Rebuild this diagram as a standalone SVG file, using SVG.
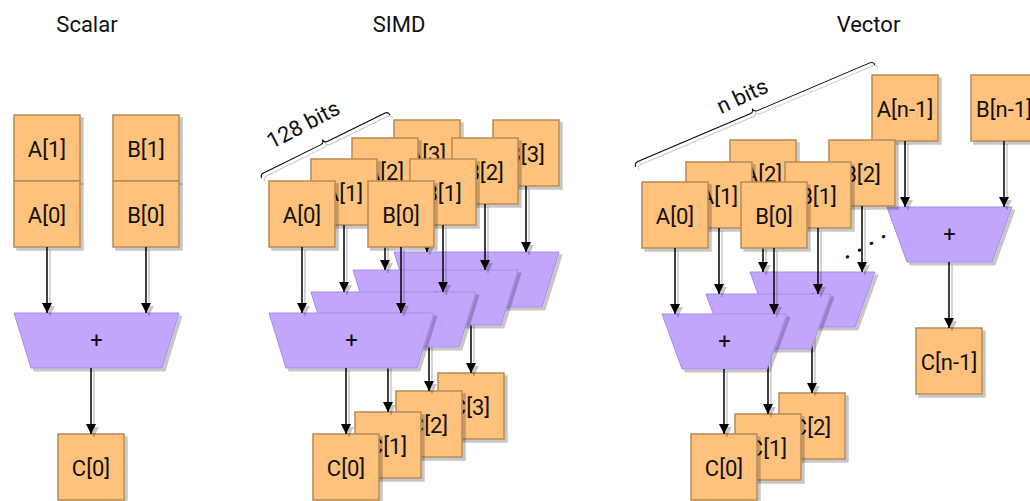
<svg xmlns="http://www.w3.org/2000/svg" width="1030" height="501" viewBox="0 0 1030 501">
<defs>
<filter id="sh" filterUnits="userSpaceOnUse" x="0" y="0" width="1030" height="501">
<feGaussianBlur in="SourceAlpha" stdDeviation="0.7"/>
<feOffset dx="3" dy="3"/>
<feComponentTransfer><feFuncA type="linear" slope="0.22"/></feComponentTransfer>
<feMerge><feMergeNode/><feMergeNode in="SourceGraphic"/></feMerge>
</filter>
<marker id="arr" viewBox="0 0 10 10" refX="10" refY="5" markerWidth="10" markerHeight="10" markerUnits="userSpaceOnUse" orient="auto">
<path d="M0,0 L10,5 L0,10 z" fill="#000"/>
</marker>
</defs>
<style>
text{font-family:Roboto,"Liberation Sans",sans-serif;font-size:22px;fill:#111;text-anchor:middle}
.box rect{fill:#FEC27D;stroke:#B78A55;stroke-width:1.5;filter:url(#sh)}
.alu polygon{fill:#C2A6FE;stroke:#A68CE2;stroke-width:1;filter:url(#sh)}
.conn{filter:url(#sh)}
.conn line{stroke:#000;stroke-width:1.5;marker-end:url(#arr)}
.brace-line{filter:url(#sh)}
.brace-line path{fill:none;stroke:#000;stroke-width:1}
</style>
<rect width="1030" height="501" fill="#fff"/>

<g id="titles">
<text x="87" y="32">Scalar</text>
<text x="399" y="32">SIMD</text>
<text x="868.5" y="32">Vector</text>
</g>

<!-- Scalar -->
<g id="sc-a1" class="box"><rect x="14" y="115" width="66" height="66"/><text x="47" y="156.5">A[1]</text></g>
<g id="sc-a0" class="box"><rect x="14" y="181" width="66" height="66"/><text x="47" y="222.5">A[0]</text></g>
<g id="sc-b1" class="box"><rect x="113" y="115" width="66" height="66"/><text x="146" y="156.5">B[1]</text></g>
<g id="sc-b0" class="box"><rect x="113" y="181" width="66" height="66"/><text x="146" y="222.5">B[0]</text></g>
<g id="sc-alu" class="alu"><polygon points="14,313 179,313 162,368 31,368"/><text x="96.5" y="347.5">+</text></g>
<g id="sc-c0" class="box"><rect x="58" y="434" width="66" height="66"/><text x="91" y="475.5">C[0]</text></g>
<g id="sc-connectors" class="conn">
<line x1="47" y1="247" x2="47" y2="313"/>
<line x1="146" y1="247" x2="146" y2="313"/>
<line x1="91" y1="368" x2="91" y2="434"/>
</g>

<!-- SIMD slice 3 -->
<g id="simd-a3" class="box"><rect x="394" y="120" width="66" height="66"/><text x="427" y="161.5">A[3]</text></g>
<g id="simd-b3" class="box"><rect x="493" y="120" width="66" height="66"/><text x="526" y="161.5">B[3]</text></g>
<g id="simd-alu3" class="alu"><polygon points="394,252 559,252 542,307 411,307"/><text x="476.5" y="286.5">+</text></g>
<g id="simd-c3" class="box"><rect x="438" y="373" width="66" height="66"/><text x="471" y="414.5">C[3]</text></g>
<g id="simd-connectors-3" class="conn">
<line x1="427" y1="186" x2="427" y2="252"/>
<line x1="526" y1="186" x2="526" y2="252"/>
<line x1="471" y1="307" x2="471" y2="373"/>
</g>
<!-- SIMD slice 2 -->
<g id="simd-a2" class="box"><rect x="352" y="138" width="66" height="66"/><text x="385" y="179.5">A[2]</text></g>
<g id="simd-b2" class="box"><rect x="452" y="138" width="66" height="66"/><text x="485" y="179.5">B[2]</text></g>
<g id="simd-alu2" class="alu"><polygon points="353,270 518,270 501,325 370,325"/><text x="435.5" y="304.5">+</text></g>
<g id="simd-c2" class="box"><rect x="396" y="391" width="66" height="66"/><text x="429" y="432.5">C[2]</text></g>
<g id="simd-connectors-2" class="conn">
<line x1="385" y1="204" x2="385" y2="270"/>
<line x1="485" y1="204" x2="485" y2="270"/>
<line x1="429" y1="325" x2="429" y2="391"/>
</g>
<!-- SIMD slice 1 -->
<g id="simd-a1" class="box"><rect x="311" y="159" width="66" height="66"/><text x="344" y="200.5">A[1]</text></g>
<g id="simd-b1" class="box"><rect x="410" y="159" width="66" height="66"/><text x="443" y="200.5">B[1]</text></g>
<g id="simd-alu1" class="alu"><polygon points="311,292 476,292 459,347 328,347"/><text x="393.5" y="326.5">+</text></g>
<g id="simd-c1" class="box"><rect x="355" y="412" width="66" height="66"/><text x="388" y="453.5">C[1]</text></g>
<g id="simd-connectors-1" class="conn">
<line x1="344" y1="225" x2="344" y2="292"/>
<line x1="443" y1="225" x2="443" y2="292"/>
<line x1="388" y1="347" x2="388" y2="412"/>
</g>
<!-- SIMD slice 0 -->
<g id="simd-a0" class="box"><rect x="269" y="181" width="66" height="66"/><text x="302" y="222.5">A[0]</text></g>
<g id="simd-b0" class="box"><rect x="368" y="181" width="66" height="66"/><text x="401" y="222.5">B[0]</text></g>
<g id="simd-alu0" class="alu"><polygon points="269,313 434,313 417,368 286,368"/><text x="351.5" y="347.5">+</text></g>
<g id="simd-c0" class="box"><rect x="313" y="434" width="66" height="66"/><text x="346" y="475.5">C[0]</text></g>
<g id="simd-connectors-0" class="conn">
<line x1="302" y1="247" x2="302" y2="313"/>
<line x1="401" y1="247" x2="401" y2="313"/>
<line x1="346" y1="368" x2="346" y2="434"/>
</g>
<g id="simd-brace">
<g class="brace-line"><path transform="translate(325.85,146.65) rotate(-26.26)" d="M-71.5,0 Q-71.5,-4 -67.5,-4 L-4,-4 Q0,-4 0,-8 Q0,-4 4,-4 L67.5,-4 Q71.5,-4 71.5,0"/></g>
<text transform="translate(304,126) rotate(-27.5)" y="5.8">128 bits</text>
</g>

<!-- Vector slice n-1 -->
<g id="vec-an" class="box"><rect x="872" y="75" width="66" height="66"/><text x="905" y="116.5">A[n-1]</text></g>
<g id="vec-bn" class="box"><rect x="971" y="75" width="66" height="66"/><text x="1004" y="116.5">B[n-1]</text></g>
<g id="vec-alun" class="alu"><polygon points="887,207 1012,207 992,262 907,262"/><text x="949.5" y="241.5">+</text></g>
<g id="vec-cn" class="box"><rect x="916" y="328" width="66" height="66"/><text x="949" y="369.5">C[n-1]</text></g>
<g id="vec-connectors-n" class="conn">
<line x1="905" y1="141" x2="905" y2="207"/>
<line x1="1004" y1="141" x2="1004" y2="207"/>
<line x1="949" y1="262" x2="949" y2="328"/>
</g>
<g id="vec-dots"><text transform="translate(847.3,257.3) rotate(-29.5)" x="-2.9" y="1.3" style="text-anchor:start;letter-spacing:7.4px;font-weight:bold">....</text></g>
<!-- Vector slice 2 -->
<g id="vec-a2" class="box"><rect x="730" y="140" width="66" height="66"/><text x="763" y="181.5">A[2]</text></g>
<g id="vec-b2" class="box"><rect x="829" y="140" width="66" height="66"/><text x="862" y="181.5">B[2]</text></g>
<g id="vec-alu2" class="alu"><polygon points="750,272 875,272 855,327 770,327"/><text x="812.5" y="306.5">+</text></g>
<g id="vec-c2" class="box"><rect x="779" y="393" width="66" height="66"/><text x="812" y="434.5">C[2]</text></g>
<g id="vec-connectors-2" class="conn">
<line x1="763" y1="206" x2="763" y2="272"/>
<line x1="862" y1="206" x2="862" y2="272"/>
<line x1="812" y1="327" x2="812" y2="393"/>
</g>
<!-- Vector slice 1 -->
<g id="vec-a1" class="box"><rect x="686" y="162" width="66" height="66"/><text x="719" y="203.5">A[1]</text></g>
<g id="vec-b1" class="box"><rect x="785" y="162" width="66" height="66"/><text x="818" y="203.5">B[1]</text></g>
<g id="vec-alu1" class="alu"><polygon points="706,294 831,294 811,349 726,349"/><text x="768.5" y="328.5">+</text></g>
<g id="vec-c1" class="box"><rect x="735" y="414" width="66" height="66"/><text x="768" y="455.5">C[1]</text></g>
<g id="vec-connectors-1" class="conn">
<line x1="719" y1="228" x2="719" y2="294"/>
<line x1="818" y1="228" x2="818" y2="294"/>
<line x1="768" y1="349" x2="768" y2="414"/>
</g>
<!-- Vector slice 0 -->
<g id="vec-a0" class="box"><rect x="642" y="182" width="66" height="66"/><text x="675" y="223.5">A[0]</text></g>
<g id="vec-b0" class="box"><rect x="741" y="182" width="66" height="66"/><text x="774" y="223.5">B[0]</text></g>
<g id="vec-alu0" class="alu"><polygon points="662,314 787,314 767,369 682,369"/><text x="724.5" y="348.5">+</text></g>
<g id="vec-c0" class="box"><rect x="691" y="434" width="66" height="66"/><text x="724" y="475.5">C[0]</text></g>
<g id="vec-connectors-0" class="conn">
<line x1="675" y1="248" x2="675" y2="314"/>
<line x1="774" y1="248" x2="774" y2="314"/>
<line x1="724" y1="369" x2="724" y2="434"/>
</g>
<g id="vec-brace">
<g class="brace-line"><path transform="translate(755.35,115.85) rotate(-23.03)" d="M-130,0 Q-130,-4 -126,-4 L-4,-4 Q0,-4 0,-8 Q0,-4 4,-4 L126,-4 Q130,-4 130,0"/></g>
<text transform="translate(743,97.5) rotate(-25)" y="5.8">n bits</text>
</g>
</svg>
